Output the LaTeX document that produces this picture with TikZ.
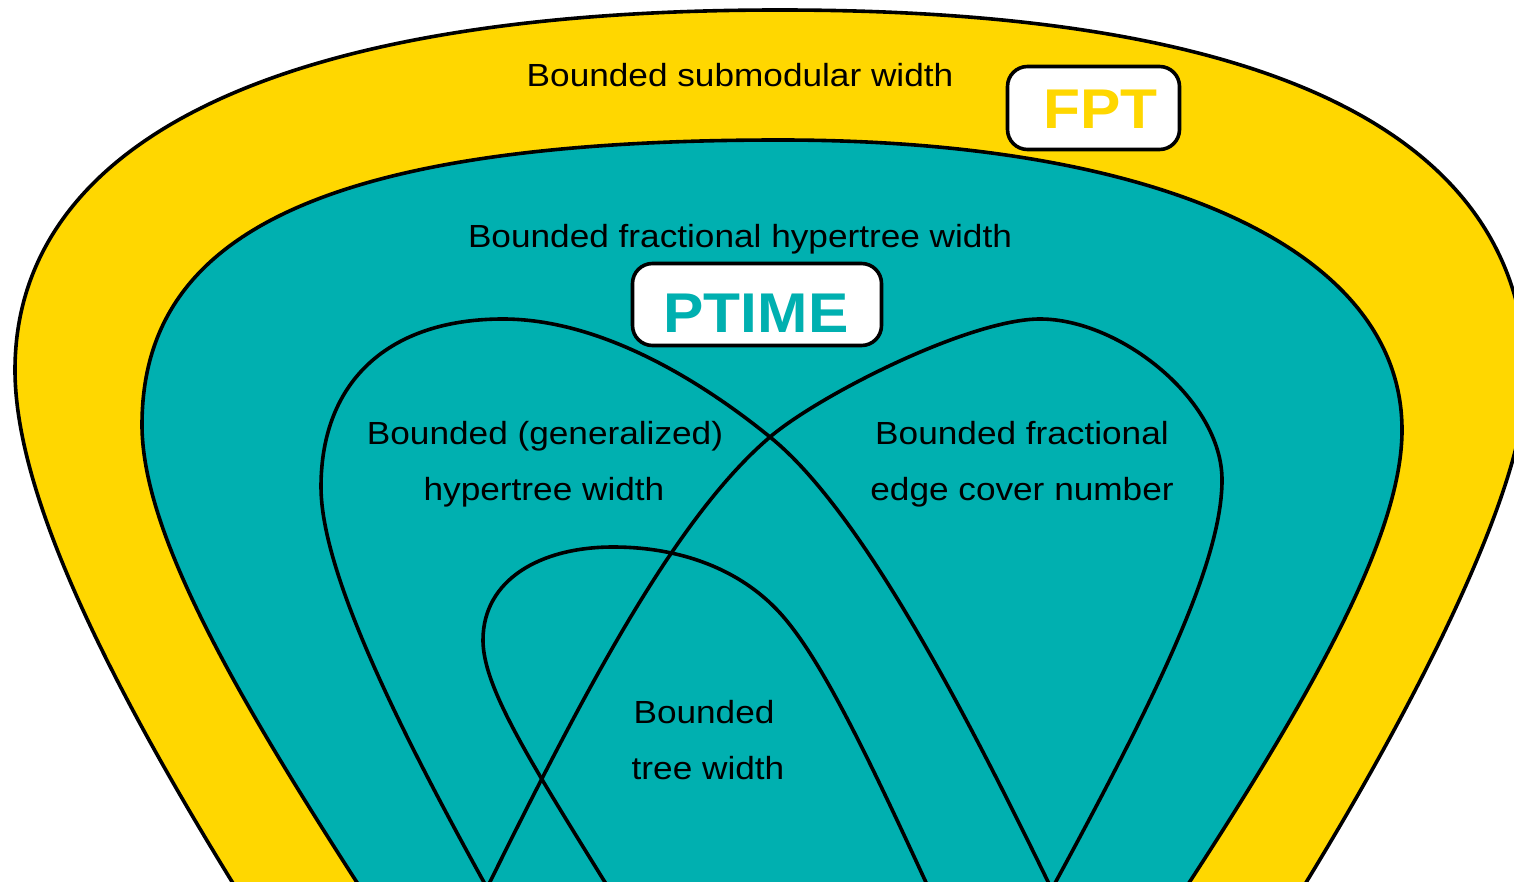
\documentclass[tikz,border=0pt]{standalone}
\usepackage{fontspec}
\setmainfont{Liberation Sans}
\newfontfamily\labelfont[FakeStretch=1.1]{Liberation Sans}
\newfontfamily\tagfont[FakeStretch=1.08]{Liberation Sans}

\definecolor{fptyellow}{RGB}{255,215,0}
\definecolor{ptteal}{RGB}{0,176,176}

\tikzset{
  region/.style={draw=black, line width=3.6pt, line join=round},
  loopline/.style={draw=black, line width=3.6pt},
  tagbox/.style={draw=black, fill=white, line width=3.6pt, rounded corners=20pt, inner sep=0pt},
  tagtext/.style={font=\tagfont\bfseries\fontsize{56}{60}\selectfont, anchor=base, inner sep=0pt},
  classtext/.style={font=\labelfont\fontsize{32}{38}\selectfont, anchor=base, inner sep=0pt, text=black}
}

\begin{document}
\begin{tikzpicture}[x=1pt, y=-1pt]
  \useasboundingbox (0,0) rectangle (1514,882);
  \clip (0,0) rectangle (1514,882);
  \fill[white] (0,0) rectangle (1514,882);

  % outer class: bounded submodular width
  \path[region, fill=fptyellow]
    (320,1020) .. controls (150,760) and (15,520) .. (15,370)
               .. controls (15,170) and (220,10) .. (780,10)
               .. controls (1320,10) and (1526,160) .. (1526,380)
               .. controls (1526,500) and (1390,760) .. (1225,1010) -- cycle;

  % bounded fractional hypertree width
  \path[region, fill=ptteal]
    (440,1010) .. controls (290,780) and (142,560) .. (142,425)
               .. controls (142,245) and (300,140) .. (780,140)
               .. controls (1160,140) and (1402,250) .. (1402,430)
               .. controls (1402,560) and (1265,770) .. (1105,1010) -- cycle;

  % bounded (generalized) hypertree width
  \path[loopline]
    (550,1000) .. controls (460,840) and (321,600) .. (321,487)
               .. controls (321,380) and (390,319) .. (503,319)
               .. controls (600,319) and (700,380) .. (770,437)
               .. controls (880,526) and (1009,800) .. (1105,1000);

  % bounded fractional edge cover number
  \path[loopline]
    (432,1000) .. controls (554.5,750) and (660,530.5) .. (770,437)
               .. controls (820,394.5) and (970,319) .. (1040,319)
               .. controls (1120,319) and (1222,400) .. (1222,480)
               .. controls (1222,580) and (1123,760) .. (991,1000);

  % bounded tree width
  \path[loopline]
    (677,1000) .. controls (557,800) and (483,700) .. (483,640)
               .. controls (483,580) and (540,547) .. (613,547)
               .. controls (680,547) and (740,569) .. (780,613)
               .. controls (830,668) and (888,800) .. (980,1000);

  % complexity tags
  \node[tagbox, minimum width=172pt, minimum height=83pt] (fptbox) at (1093.5,108) {};
  \node[tagtext, text=fptyellow] (fpt) at (1100.5,129) {FPT};
  \node[tagbox, minimum width=249pt, minimum height=82pt] (ptimebox) at (757,304.5) {};
  \node[tagtext, text=ptteal] (ptime) at (756,332) {PTIME};

  % class names
  \node[classtext] (subw) at (740,87) {Bounded submodular width};
  \node[classtext] (fhw) at (740,248) {Bounded fractional hypertree width};
  \node[classtext] (ghwa) at (545,444) {Bounded (generalized)};
  \node[classtext] (ghwb) at (544,500) {hypertree width};
  \node[classtext] (fecna) at (1022,444) {Bounded fractional};
  \node[classtext] (fecnb) at (1022,500) {edge cover number};
  \node[classtext] (twa) at (704,723) {Bounded};
  \node[classtext] (twb) at (708,779) {tree width};
\end{tikzpicture}
\end{document}
